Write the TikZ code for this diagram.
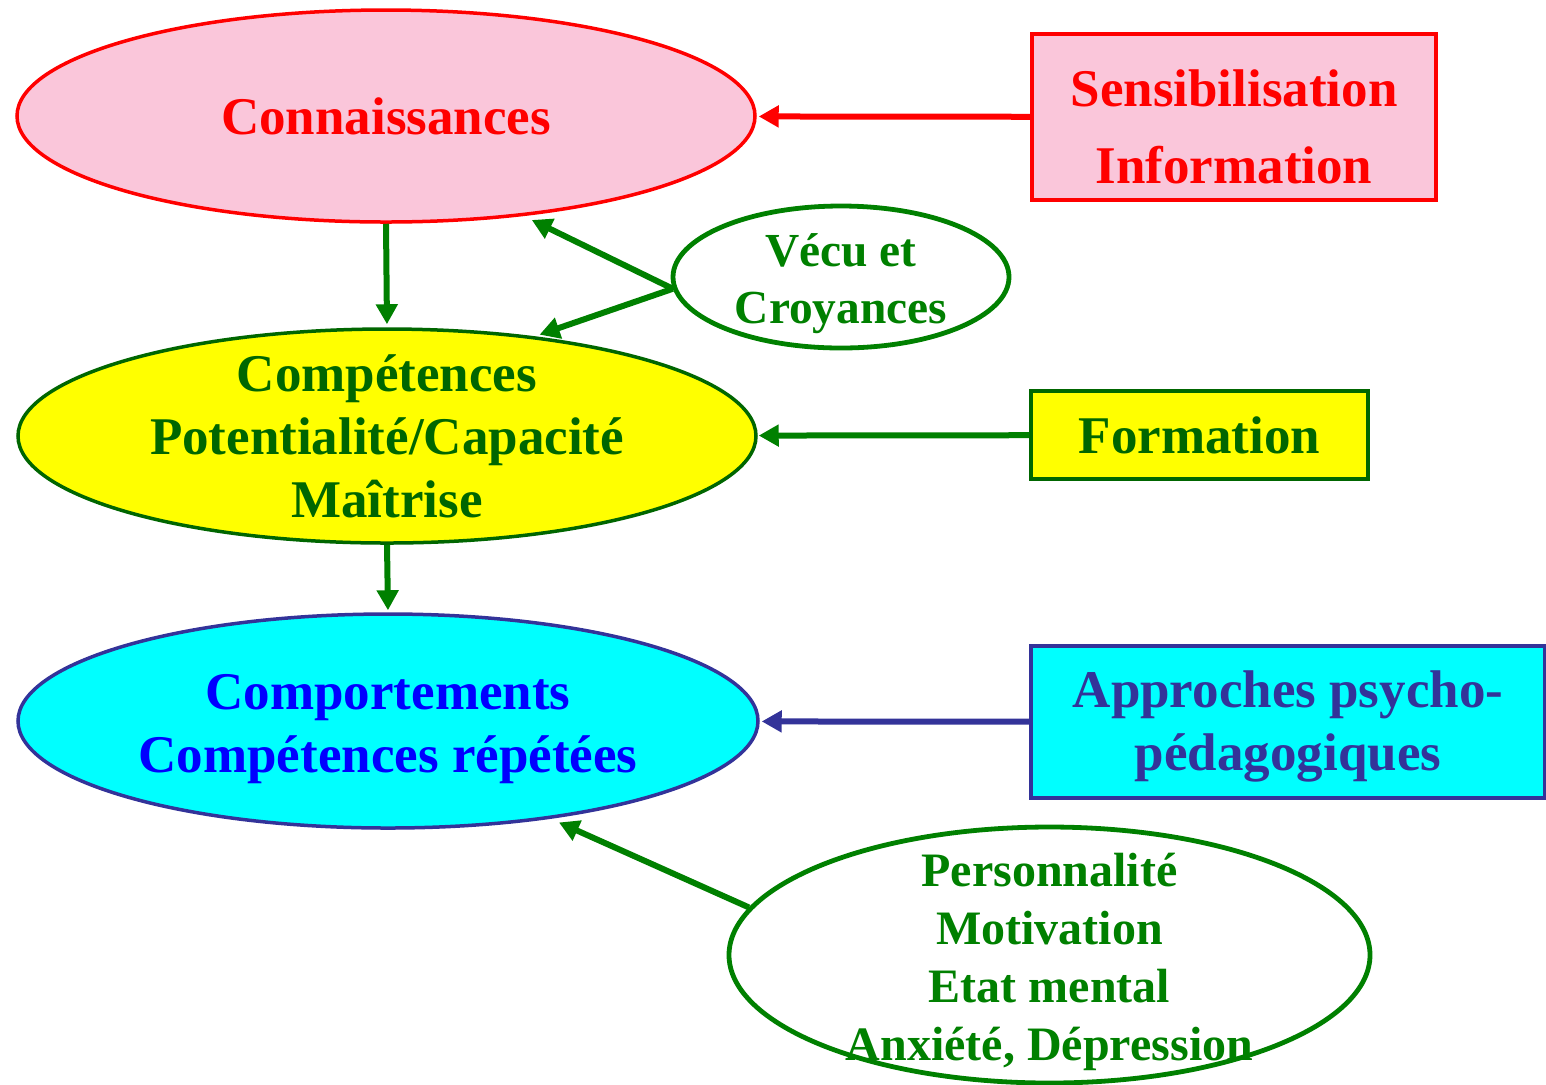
\documentclass[tikz,border=0pt]{standalone}
\usepackage{fontspec}
\setmainfont{Liberation Serif}
\usepackage{tikz}
\usetikzlibrary{shapes.geometric, arrows.meta}
\definecolor{pinkfill}{RGB}{250,198,218}
\definecolor{yellowfill}{RGB}{255,255,0}
\definecolor{cyanfill}{RGB}{0,255,255}
\definecolor{darkgreen}{RGB}{0,102,0}
\definecolor{midgreen}{RGB}{0,128,0}
\definecolor{navy}{RGB}{51,51,153}
\definecolor{purblue}{RGB}{0,0,255}
\tikzstyle{bigellipse} = [ellipse,
minimum width=369pt,
minimum height=106pt,
inner sep=-20pt,
line width=1.75pt,
align=center,
font=\bfseries\fontsize{26.5}{31.5}\selectfont]
\tikzstyle{sidebox} = [rectangle,
inner sep=0pt,
line width=1.75pt,
align=center,
font=\bfseries\fontsize{26.5}{31.5}\selectfont]
\tikzstyle{factorellipse} = [ellipse,
inner sep=-20pt,
line width=2.4pt,
draw=midgreen,
fill=white,
text=midgreen,
align=center]
\tikzstyle{link} = [line width=3pt, -{Triangle[length=10pt,width=10.5pt]}]

\begin{document}
\begin{tikzpicture}[x=0.5pt, y=-0.5pt]
		\useasboundingbox (0,0) rectangle (1546,1084);
		\node (conn) [bigellipse, draw=red, fill=pinkfill, text=red] at (386,116) {Connaissances};
		\node (sens) [sidebox, draw=red, fill=pinkfill, text=red, minimum width=202pt, minimum height=83pt,
			font=\bfseries\fontsize{26.5}{38.5}\selectfont] at (1234,117) {\rule{0pt}{28pt}Sensibilisation\\Information};
		\node (vecu) [factorellipse, minimum width=168pt, minimum height=71pt,
			font=\bfseries\fontsize{23.7}{28.5}\selectfont] at (841,277) {\rule{0pt}{23pt}Vécu et\\Croyances};
		\node (compet) [bigellipse, draw=darkgreen, fill=yellowfill, text=darkgreen, minimum height=107pt] at (387,436)
			{Compétences\\Potentialité/Capacité\\Maîtrise};
		\node (form) [sidebox, draw=darkgreen, fill=yellowfill, text=darkgreen, minimum width=168.5pt, minimum height=44pt] at (1199.5,435) {Formation};
		\node (comport) [bigellipse, draw=navy, fill=cyanfill, text=purblue, minimum width=370pt, minimum height=107pt] at (388,721)
			{\rule{0pt}{25.5pt}Comportements\\Compétences répétées};
		\node (appr) [sidebox, draw=navy, fill=cyanfill, text=navy, minimum width=257pt, minimum height=76pt] at (1288,722)
			{\rule{0pt}{23pt}Approches psycho-\\pédagogiques};
		\node (pers) [factorellipse, minimum width=320.5pt, minimum height=128pt,
			font=\bfseries\fontsize{24}{29}\selectfont] at (1049.5,955)
			{\rule{0pt}{24pt}Personnalité\\Motivation\\Etat mental\\Anxiété, Dépression};

		\draw [link, red, shorten >=1pt](sens) -- (conn);
		\draw [link, midgreen, shorten >=1.5pt](conn.south) -- (compet.north);
		\draw [link, midgreen, shorten >=4.5pt](vecu.184) -- (conn.-36);
		\draw [link, midgreen, shorten >=2.5pt](vecu.184) -- (compet.34);
		\draw [link, midgreen, shorten >=0.5pt](form) -- (compet);
		\draw [link, midgreen, shorten >=1pt](compet.south) -- (comport.north);
		\draw [link, navy, shorten >=1pt](appr) -- (comport);
		\draw [link, midgreen, shorten >=4.5pt](pers.171) -- (comport.-31);
	\end{tikzpicture}
\end{document}
